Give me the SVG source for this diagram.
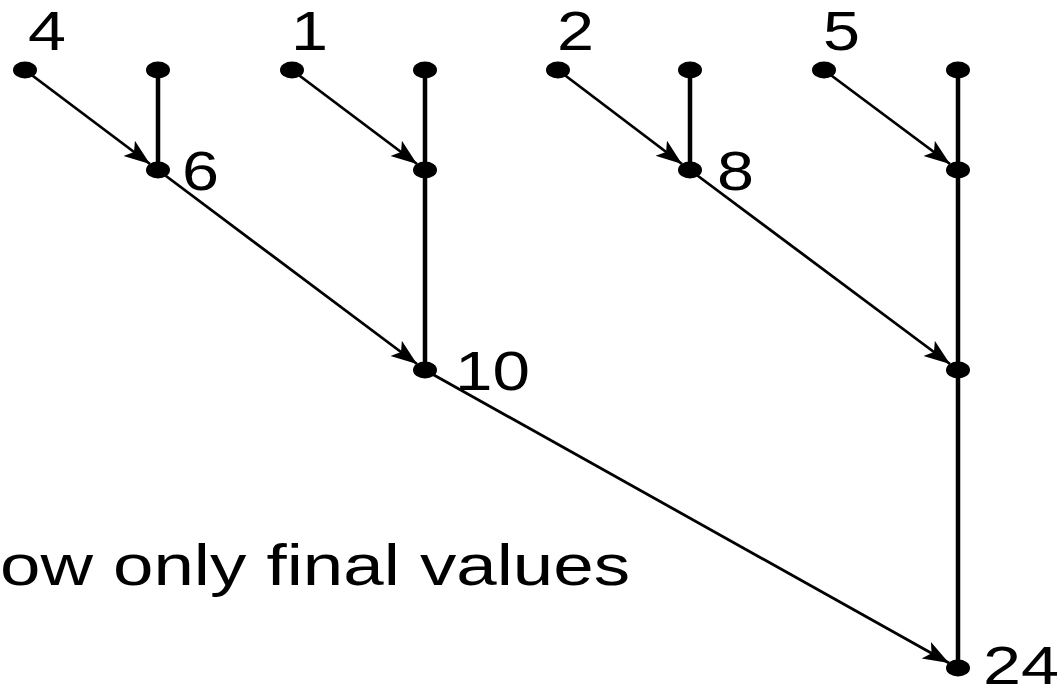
<svg xmlns="http://www.w3.org/2000/svg" width="1063" height="693" viewBox="0 0 1063 693">
<style>
.v{stroke:#000;stroke-width:4.5;fill:none}
.d{stroke:#000;stroke-width:2.8;fill:none;marker-end:url(#ah)}
.dot{fill:#000}
text{font-family:"Liberation Sans",Arial,sans-serif;font-size:55px;fill:#000}
</style>
<defs>
<marker id="ah" markerUnits="userSpaceOnUse" markerWidth="30" markerHeight="22" refX="26" refY="9.5" orient="auto">
<path d="M0,0 L26,9.5 L0,19 L6,9.5 z" fill="#000"/>
</marker>
</defs>
<rect width="1063" height="693" fill="#fff"/>
<g id="connectors">
<line class="v" x1="158" y1="70" x2="158" y2="170"/>
<line class="v" x1="425" y1="70" x2="425" y2="370"/>
<line class="v" x1="690" y1="70" x2="690" y2="170"/>
<line class="v" x1="958" y1="70" x2="958" y2="668"/>
<line class="d" x1="25" y1="70" x2="150" y2="164"/>
<line class="d" x1="292" y1="70" x2="417" y2="164"/>
<line class="d" x1="558" y1="70" x2="682" y2="164"/>
<line class="d" x1="824" y1="70" x2="950" y2="164"/>
<line class="d" x1="158" y1="170" x2="417" y2="364"/>
<line class="d" x1="690" y1="170" x2="950" y2="364"/>
<line class="d" x1="425" y1="370" x2="949" y2="663"/>
</g>
<g id="n_a"><ellipse class="dot" cx="25" cy="70" rx="12" ry="8.5"/><text x="28" y="50" textLength="38" lengthAdjust="spacingAndGlyphs">4</text></g>
<g id="n_b"><ellipse class="dot" cx="158" cy="70" rx="12" ry="8.5"/></g>
<g id="n_c"><ellipse class="dot" cx="292" cy="70" rx="12" ry="8.5"/><text x="291" y="50" textLength="37" lengthAdjust="spacingAndGlyphs">1</text></g>
<g id="n_d"><ellipse class="dot" cx="425" cy="70" rx="12" ry="8.5"/></g>
<g id="n_e"><ellipse class="dot" cx="558" cy="70" rx="12" ry="8.5"/><text x="557" y="50" textLength="37" lengthAdjust="spacingAndGlyphs">2</text></g>
<g id="n_f"><ellipse class="dot" cx="690" cy="70" rx="12" ry="8.5"/></g>
<g id="n_g"><ellipse class="dot" cx="824" cy="70" rx="12" ry="8.5"/><text x="823" y="50" textLength="37" lengthAdjust="spacingAndGlyphs">5</text></g>
<g id="n_h"><ellipse class="dot" cx="958" cy="70" rx="12" ry="8.5"/></g>
<g id="n_s1"><ellipse class="dot" cx="158" cy="170" rx="12" ry="8.5"/><text x="182" y="190" textLength="37" lengthAdjust="spacingAndGlyphs">6</text></g>
<g id="n_s2"><ellipse class="dot" cx="425" cy="170" rx="12" ry="8.5"/></g>
<g id="n_s3"><ellipse class="dot" cx="690" cy="170" rx="12" ry="8.5"/><text x="717" y="190" textLength="37" lengthAdjust="spacingAndGlyphs">8</text></g>
<g id="n_s4"><ellipse class="dot" cx="958" cy="170" rx="12" ry="8.5"/></g>
<g id="n_t1"><ellipse class="dot" cx="425" cy="370" rx="12" ry="8.5"/><text x="455" y="390" textLength="75" lengthAdjust="spacingAndGlyphs">10</text></g>
<g id="n_t2"><ellipse class="dot" cx="958" cy="370" rx="12" ry="8.5"/></g>
<g id="n_r"><ellipse class="dot" cx="958" cy="668" rx="12" ry="8.5"/><text x="983" y="684" style="font-size:53px" textLength="76" lengthAdjust="spacingAndGlyphs">24</text></g>
<text x="0" y="585" style="font-size:58px" textLength="630" lengthAdjust="spacingAndGlyphs">ow only final values</text>
</svg>
